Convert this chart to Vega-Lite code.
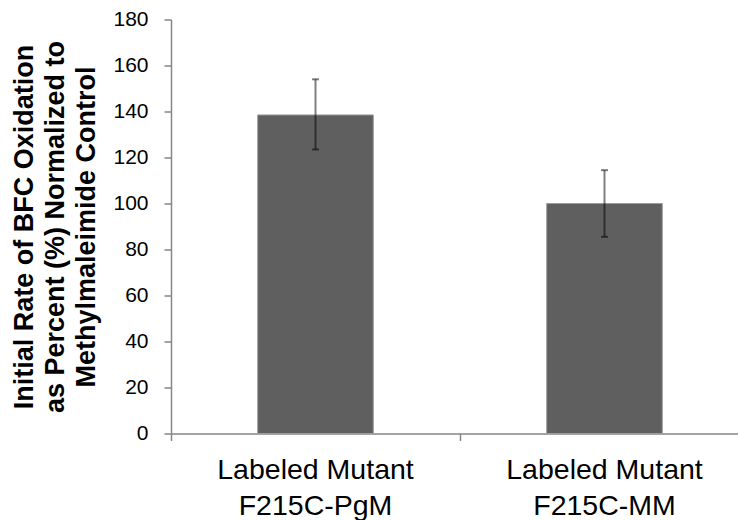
{
  "$schema": "https://vega.github.io/schema/vega-lite/v6.json",
  "autosize": "none",
  "width": 578,
  "height": 414,
  "padding": {"left": 171, "top": 19.5, "right": -11, "bottom": 86.5},
  "background": "white",
  "config": {
    "view": {"stroke": null},
    "font": "Liberation Sans",
    "axis": {"labelFont": "Liberation Sans", "titleFont": "Liberation Sans", "grid": false}
  },
  "data": {
    "values": [
      {"group": "Labeled Mutant F215C-PgM", "value": 138.5, "lo": 123.5, "hi": 154},
      {"group": "Labeled Mutant F215C-MM", "value": 100, "lo": 85.5, "hi": 114.5}
    ]
  },
  "encoding": {
    "x": {
      "field": "group",
      "type": "nominal",
      "sort": null,
      "scale": {"paddingInner": 0, "paddingOuter": 0},
      "axis": {
        "title": null,
        "labelAngle": 0,
        "labelFontSize": 28.5,
        "labelLimit": 0,
        "labelColor": "#000000",
        "labelLineHeight": 36,
        "labelPadding": 15,
        "labelExpr": "[slice(datum.value, 0, 14), slice(datum.value, 15)]",
        "bandPosition": 0,
        "tickSize": 7,
        "tickWidth": 1.5,
        "tickColor": "#868686",
        "domainColor": "#868686",
        "domainWidth": 1.5
      }
    }
  },
  "layer": [
    {
      "mark": {"type": "bar", "width": {"band": 0.4}, "color": "#5f5f5f", "stroke": "#9c9c9c", "strokeWidth": 1},
      "encoding": {
        "y": {
          "field": "value",
          "type": "quantitative",
          "scale": {"domain": [0, 180], "nice": false},
          "axis": {
            "values": [0, 20, 40, 60, 80, 100, 120, 140, 160, 180],
            "title": ["Initial Rate of BFC Oxidation", "as Percent (%) Normalized to", "Methylmaleimide Control"],
            "titleFontSize": 27,
            "titleFontWeight": "bold",
            "titleColor": "#000000",
            "titleLineHeight": 31,
            "titlePadding": 12,
            "labelFontSize": 21,
            "labelColor": "#000000",
            "labelPadding": 16,
            "tickSize": 7,
            "tickWidth": 1.5,
            "tickColor": "#868686",
            "domainColor": "#868686",
            "domainWidth": 1.5
          }
        }
      }
    },
    {
      "mark": {"type": "rule", "color": "#000000", "opacity": 0.5, "strokeWidth": 2},
      "encoding": {
        "y": {"field": "lo", "type": "quantitative"},
        "y2": {"field": "hi"}
      }
    },
    {
      "mark": {"type": "tick", "color": "#000000", "opacity": 0.5, "size": 7, "thickness": 2},
      "encoding": {"y": {"field": "lo", "type": "quantitative"}}
    },
    {
      "mark": {"type": "tick", "color": "#000000", "opacity": 0.5, "size": 7, "thickness": 2},
      "encoding": {"y": {"field": "hi", "type": "quantitative"}}
    }
  ]
}
